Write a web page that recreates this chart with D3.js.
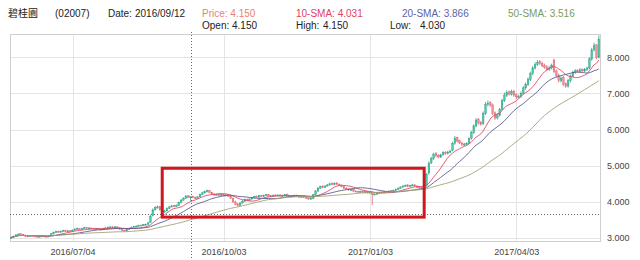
<!DOCTYPE html>
<html>
<head>
<meta charset="utf-8">
<script src="https://cdn.jsdelivr.net/npm/d3@7"></script>
<style>
body { margin: 0; background: #fff; }
svg { font-family: "Liberation Sans", Arial, sans-serif; }
</style>
</head>
<body>
<svg id="chart" width="640" height="260"></svg>
<script>
// trading calendar (HK holidays skipped)
var firstDay = "2016-05-25";
var holidays = ["2016-06-09", "2016-07-01", "2016-09-16", "2016-10-10", "2016-12-26", "2016-12-27",
    "2017-01-02", "2017-01-30", "2017-01-31", "2017-04-04", "2017-04-14", "2017-04-17", "2017-05-01", "2017-05-03"];
var tickDates = ["2016/07/04", "2016/10/03", "2017/01/03", "2017/04/03"];
var yTicks = [3, 4, 5, 6, 7, 8];

var open = [
    3.00,3.02,3.05,3.09,3.12,3.10,3.08,3.06,3.05,3.07,
    3.06,3.05,3.04,3.05,3.06,3.05,3.04,3.07,3.12,3.16,
    3.19,3.17,3.19,3.21,3.18,3.21,3.19,3.22,3.25,3.27,
    3.24,3.26,3.29,3.27,3.28,3.26,3.24,3.27,3.25,3.23,
    3.26,3.28,3.30,3.31,3.29,3.31,3.28,3.24,3.22,3.20,
    3.24,3.27,3.30,3.32,3.33,3.36,3.34,3.37,3.38,3.43,
    3.62,3.78,3.84,3.87,3.78,3.72,3.75,3.82,3.86,3.90,
    3.87,3.90,3.98,4.05,4.10,4.17,4.15,4.15,4.12,4.10,
    4.14,4.20,4.25,4.28,4.31,4.26,4.22,4.19,4.22,4.18,
    4.21,4.17,4.19,4.16,4.10,4.00,3.94,3.90,3.97,4.02,
    4.07,4.04,4.08,4.12,4.16,4.13,4.18,4.15,4.18,4.20,
    4.17,4.15,4.19,4.17,4.19,4.16,4.18,4.21,4.17,4.17,
    4.15,4.18,4.16,4.13,4.15,4.13,4.11,4.08,4.10,4.20,
    4.30,4.38,4.43,4.40,4.44,4.47,4.51,4.48,4.52,4.49,
    4.46,4.42,4.38,4.36,4.32,4.35,4.30,4.29,4.27,4.29,
    4.26,4.28,4.25,4.27,4.20,4.22,4.24,4.27,4.25,4.28,
    4.27,4.31,4.29,4.32,4.35,4.38,4.41,4.44,4.47,4.43,
    4.45,4.47,4.44,4.41,4.38,4.39,4.45,4.80,5.08,5.20,
    5.34,5.29,5.24,5.30,5.37,5.34,5.38,5.42,5.62,5.78,
    5.69,5.63,5.57,5.60,5.62,5.76,5.92,6.10,6.28,6.19,
    6.16,6.45,6.70,6.74,6.68,6.46,6.32,6.40,6.56,6.80,
    6.95,7.04,6.98,7.06,6.96,6.89,6.92,7.00,7.15,7.25,
    7.38,7.55,7.70,7.80,7.88,7.83,7.77,7.73,7.66,7.70,
    7.92,7.62,7.50,7.35,7.44,7.27,7.20,7.35,7.48,7.58,
    7.63,7.60,7.66,7.62,7.66,7.70,7.95,8.20,8.34,8.00
];
var high = [
    3.04,3.07,3.10,3.13,3.13,3.11,3.09,3.07,3.08,3.08,
    3.07,3.06,3.06,3.07,3.07,3.06,3.07,3.14,3.18,3.20,
    3.21,3.21,3.23,3.22,3.22,3.22,3.24,3.27,3.29,3.28,
    3.28,3.31,3.30,3.30,3.29,3.27,3.28,3.28,3.27,3.28,
    3.30,3.32,3.33,3.33,3.33,3.32,3.29,3.25,3.23,3.26,
    3.29,3.32,3.34,3.35,3.37,3.37,3.39,3.40,3.45,3.65,
    3.82,3.88,3.90,3.89,3.80,3.78,3.85,3.89,3.92,3.92,
    3.93,4.01,4.08,4.13,4.19,4.18,4.15,4.17,4.15,4.16,
    4.23,4.28,4.31,4.34,4.33,4.28,4.24,4.23,4.24,4.22,
    4.23,4.21,4.21,4.18,4.12,4.03,3.97,3.99,4.05,4.09,
    4.09,4.10,4.14,4.17,4.18,4.19,4.19,4.20,4.22,4.22,
    4.19,4.20,4.21,4.21,4.21,4.20,4.22,4.23,4.19,4.19,
    4.20,4.20,4.18,4.17,4.17,4.15,4.13,4.12,4.22,4.33,
    4.41,4.45,4.46,4.46,4.49,4.53,4.54,4.54,4.55,4.51,
    4.48,4.44,4.41,4.38,4.37,4.37,4.32,4.31,4.31,4.31,
    4.30,4.30,4.29,4.29,4.24,4.26,4.28,4.29,4.30,4.30,
    4.32,4.33,4.34,4.37,4.40,4.43,4.46,4.48,4.49,4.47,
    4.50,4.49,4.46,4.43,4.41,4.44,4.80,5.12,5.25,5.36,
    5.38,5.32,5.33,5.40,5.40,5.41,5.44,5.66,5.82,5.80,
    5.72,5.66,5.63,5.65,5.78,5.96,6.15,6.32,6.32,6.24,
    6.50,6.76,6.80,6.78,6.72,6.50,6.45,6.60,6.85,7.02,
    7.08,7.08,7.10,7.10,7.00,6.96,7.05,7.20,7.30,7.44,
    7.60,7.76,7.86,7.92,7.92,7.88,7.82,7.78,7.75,7.82,
    7.96,7.66,7.55,7.47,7.48,7.30,7.40,7.52,7.63,7.67,
    7.67,7.70,7.69,7.70,7.74,8.00,8.26,8.40,8.36,8.60
];
var low = [
    2.98,3.00,3.03,3.07,3.08,3.06,3.04,3.03,3.03,3.05,
    3.04,3.03,3.03,3.04,3.04,3.03,3.03,3.06,3.10,3.14,
    3.15,3.15,3.18,3.17,3.17,3.18,3.18,3.21,3.24,3.23,
    3.23,3.25,3.26,3.26,3.25,3.23,3.23,3.24,3.22,3.22,
    3.25,3.27,3.29,3.28,3.28,3.27,3.23,3.20,3.18,3.19,
    3.23,3.26,3.29,3.31,3.32,3.33,3.33,3.36,3.37,3.42,
    3.60,3.76,3.82,3.76,3.69,3.70,3.74,3.80,3.85,3.85,
    3.86,3.88,3.96,4.03,4.08,4.10,4.03,4.10,4.08,4.09,
    4.13,4.19,4.23,4.26,4.24,4.20,4.17,4.18,4.16,4.17,
    4.15,4.16,4.14,4.08,3.98,3.91,3.87,3.89,3.95,4.00,
    4.02,4.03,4.06,4.10,4.11,4.12,4.13,4.14,4.16,4.15,
    4.13,4.14,4.15,4.16,4.15,4.15,4.17,4.16,4.15,4.13,
    4.14,4.15,4.12,4.12,4.11,4.09,4.06,4.06,4.08,4.18,
    4.28,4.36,4.38,4.38,4.42,4.45,4.46,4.46,4.47,4.44,
    4.40,4.36,4.34,4.31,4.30,4.28,4.27,4.25,4.25,4.24,
    4.24,4.23,4.23,3.92,4.18,4.20,4.22,4.23,4.23,4.25,
    4.25,4.27,4.27,4.30,4.33,4.36,4.39,4.42,4.41,4.41,
    4.43,4.42,4.38,4.36,4.36,4.37,4.42,4.75,5.04,5.16,
    5.24,5.20,5.22,5.28,5.30,5.31,5.35,5.40,5.58,5.64,
    5.60,5.54,5.55,5.57,5.59,5.72,5.88,6.06,6.14,6.10,
    6.12,6.40,6.64,6.62,6.40,6.26,6.28,6.36,6.52,6.76,
    6.90,6.94,6.94,6.90,6.84,6.86,6.88,6.96,7.10,7.20,
    7.34,7.50,7.66,7.76,7.78,7.72,7.68,7.62,7.62,7.66,
    7.56,7.44,7.30,7.30,7.20,7.15,7.16,7.30,7.44,7.54,
    7.56,7.56,7.58,7.58,7.62,7.66,7.90,8.16,7.94,7.96
];
var close = [
    3.02,3.05,3.09,3.11,3.10,3.08,3.06,3.05,3.07,3.06,
    3.05,3.04,3.05,3.06,3.05,3.04,3.06,3.12,3.16,3.18,
    3.17,3.19,3.21,3.18,3.20,3.19,3.22,3.25,3.27,3.24,
    3.26,3.29,3.27,3.28,3.26,3.24,3.26,3.25,3.23,3.26,
    3.28,3.30,3.31,3.29,3.31,3.28,3.24,3.21,3.20,3.24,
    3.27,3.30,3.32,3.33,3.35,3.34,3.37,3.38,3.42,3.60,
    3.78,3.84,3.86,3.78,3.72,3.75,3.82,3.86,3.89,3.87,
    3.90,3.98,4.05,4.10,4.16,4.12,4.15,4.12,4.10,4.14,
    4.20,4.25,4.28,4.31,4.26,4.22,4.19,4.21,4.18,4.20,
    4.17,4.19,4.16,4.10,4.00,3.93,3.90,3.97,4.02,4.06,
    4.04,4.08,4.12,4.15,4.13,4.17,4.15,4.18,4.20,4.16,
    4.15,4.18,4.17,4.19,4.16,4.18,4.20,4.17,4.16,4.15,
    4.18,4.16,4.14,4.15,4.13,4.11,4.08,4.10,4.20,4.30,
    4.38,4.42,4.40,4.44,4.47,4.50,4.48,4.51,4.49,4.46,
    4.42,4.38,4.36,4.33,4.35,4.30,4.29,4.27,4.29,4.26,
    4.28,4.25,4.27,4.20,4.22,4.24,4.26,4.25,4.28,4.27,
    4.30,4.29,4.32,4.35,4.38,4.41,4.44,4.46,4.43,4.45,
    4.47,4.44,4.40,4.38,4.39,4.42,4.75,5.07,5.20,5.32,
    5.28,5.24,5.30,5.36,5.34,5.38,5.40,5.62,5.76,5.68,
    5.63,5.58,5.60,5.62,5.75,5.92,6.10,6.26,6.18,6.15,
    6.45,6.70,6.72,6.68,6.45,6.32,6.40,6.55,6.80,6.95,
    7.02,6.98,7.05,6.95,6.90,6.92,7.00,7.15,7.25,7.38,
    7.55,7.70,7.80,7.85,7.82,7.76,7.72,7.66,7.70,7.78,
    7.60,7.50,7.35,7.42,7.25,7.20,7.35,7.48,7.58,7.62,
    7.60,7.65,7.62,7.66,7.70,7.95,8.20,8.32,8.00,8.50
];

// crosshair and the hand-drawn box
var crossDate = "2016/09/12";
var crossValue = 3.66;
var boxFrom = "2016/08/25", boxTo = "2017/02/07", boxLo = 3.58, boxHi = 4.93;

var smaPeriods = [10, 20, 50];
var smaColors = ["#e24a62", "#5c5c8c", "#a3a274"];

var header = [
    {x: 8, y: 17, t: "碧桂園", c: "#222", cjk: true},
    {x: 55, y: 17, t: "(02007)", c: "#222"},
    {x: 108, y: 17, t: "Date:", c: "#222"},
    {x: 135, y: 17, t: "2016/09/12", c: "#222"},
    {x: 202, y: 17, t: "Price: 4.150", c: "#ea7f74"},
    {x: 202, y: 29, t: "Open:", c: "#222"},
    {x: 232, y: 29, t: "4.150", c: "#222"},
    {x: 296, y: 17, t: "10-SMA: 4.031", c: "#e2415a"},
    {x: 296, y: 29, t: "High:", c: "#222"},
    {x: 323, y: 29, t: "4.150", c: "#222"},
    {x: 402, y: 17, t: "20-SMA: 3.866", c: "#6262a6"},
    {x: 390, y: 29, t: "Low:", c: "#222"},
    {x: 420, y: 29, t: "4.030", c: "#222"},
    {x: 508, y: 17, t: "50-SMA: 3.516", c: "#7d9c5a"}
];

// build the trading days
var fmtKey = d3.timeFormat("%Y-%m-%d"), fmtLabel = d3.timeFormat("%Y/%m/%d");
var dates = [];
var day = d3.timeParse("%Y-%m-%d")(firstDay);
while (dates.length < close.length) {
    var wd = day.getDay();
    if (wd != 0 && wd != 6 && holidays.indexOf(fmtKey(day)) < 0) dates.push(fmtLabel(day));
    day = d3.timeDay.offset(day, 1);
}
var n = close.length;
function idx(label) { return dates.indexOf(label); }

function sma(p) {
    return close.map(function (c, i) {
        var s = close.slice(Math.max(0, i - p + 1), i + 1);
        return d3.mean(s);
    });
}

var margin = {top: 34, right: 40, bottom: 19, left: 10};
var svg = d3.select("#chart");
var width = +svg.attr("width"), height = +svg.attr("height");

var x = d3.scaleLinear().domain([-0.5, n - 0.5]).range([margin.left, width - margin.right]);
var y = d3.scaleLinear().domain([2.92, 8.64]).range([height - margin.bottom, margin.top]);
var bw = (x(1) - x(0)) * 0.7;

// header texts
svg.append("g").selectAll("text").data(header).enter().append("text")
    .attr("x", function (d) { return d.x; })
    .attr("y", function (d) { return d.y; })
    .attr("fill", function (d) { return d.c; })
    .style("font-size", "10px")
    .style("font-family", function (d) { return d.cjk ? '"Noto Sans CJK TC", sans-serif' : null; })
    .text(function (d) { return d.t; });

// grid
var grid = svg.append("g").attr("stroke", "#e4e4e4").attr("stroke-width", 1);
grid.selectAll(".h").data(yTicks).enter().append("line")
    .attr("x1", x.range()[0]).attr("x2", x.range()[1])
    .attr("y1", function (d) { return Math.round(y(d)) + 0.5; })
    .attr("y2", function (d) { return Math.round(y(d)) + 0.5; });
grid.selectAll(".v").data(tickDates).enter().append("line")
    .attr("x1", function (d) { return Math.round(x(idx(d))) + 0.5; })
    .attr("x2", function (d) { return Math.round(x(idx(d))) + 0.5; })
    .attr("y1", y.range()[1]).attr("y2", y.range()[0]);

svg.append("rect")
    .attr("x", x.range()[0] + 0.5).attr("y", y.range()[1] + 0.5)
    .attr("width", x.range()[1] - x.range()[0]).attr("height", y.range()[0] - y.range()[1])
    .attr("fill", "none").attr("stroke", "#cfcfcf");

// axes labels
var yAxis = d3.axisRight(y).tickValues(yTicks).tickFormat(d3.format(".3f")).tickSize(0).tickPadding(7);
svg.append("g").attr("transform", "translate(" + x.range()[1] + ",0)").call(yAxis)
    .call(function (g) { g.select(".domain").remove(); })
    .selectAll("text").style("font-size", "9px").style("font-family", '"Liberation Sans", Arial, sans-serif').attr("fill", "#444");

var xAxis = d3.axisBottom(x).tickValues(tickDates.map(idx)).tickFormat(function (i) { return dates[i]; }).tickSize(0).tickPadding(8);
svg.append("g").attr("transform", "translate(0," + y.range()[0] + ")").call(xAxis)
    .call(function (g) { g.select(".domain").remove(); })
    .selectAll("text").style("font-size", "9px").style("font-family", '"Liberation Sans", Arial, sans-serif').attr("fill", "#444");

// candles
var candles = d3.range(n).map(function (i) {
    return {i: i, o: open[i], h: high[i], l: low[i], c: close[i], up: close[i] >= open[i]};
});
var cg = svg.append("g");
cg.selectAll("line").data(candles).enter().append("line")
    .attr("x1", function (d) { return x(d.i); })
    .attr("x2", function (d) { return x(d.i); })
    .attr("y1", function (d) { return y(d.h); })
    .attr("y2", function (d) { return y(d.l); })
    .attr("stroke", function (d) { return d.up ? "#2e9c84" : "#d9646f"; })
    .attr("stroke-width", 0.8);
cg.selectAll("rect").data(candles).enter().append("rect")
    .attr("x", function (d) { return x(d.i) - bw / 2; })
    .attr("width", bw)
    .attr("y", function (d) { return y(Math.max(d.o, d.c)); })
    .attr("height", function (d) { return Math.max(1, Math.abs(y(d.o) - y(d.c))); })
    .attr("fill", function (d) { return d.up ? "#52c8ab" : "#f3909a"; })
    .attr("stroke", function (d) { return d.up ? "#2e9c84" : "#d9646f"; })
    .attr("stroke-width", 0.4);

// moving averages
var line = d3.line().x(function (d, i) { return x(i); }).y(function (d) { return y(d); });
smaPeriods.forEach(function (p, k) {
    svg.append("path").datum(sma(p))
        .attr("d", line)
        .attr("fill", "none")
        .attr("stroke", smaColors[k])
        .attr("stroke-width", 0.9);
});

// crosshair
var cx = Math.round(x(idx(crossDate))) + 0.5;
svg.append("line").attr("x1", cx).attr("x2", cx).attr("y1", y.range()[1] - 2).attr("y2", height)
    .attr("stroke", "#666").attr("stroke-dasharray", "1,2");
svg.append("line").attr("x1", x.range()[0]).attr("x2", x.range()[1])
    .attr("y1", Math.round(y(crossValue)) + 0.5).attr("y2", Math.round(y(crossValue)) + 0.5)
    .attr("stroke", "#666").attr("stroke-dasharray", "1,2");

// highlight box
svg.append("rect")
    .attr("x", x(idx(boxFrom))).attr("y", y(boxHi))
    .attr("width", x(idx(boxTo)) - x(idx(boxFrom)))
    .attr("height", y(boxLo) - y(boxHi))
    .attr("fill", "none").attr("stroke", "#d0161e").attr("stroke-width", 3);
</script>
</body>
</html>
